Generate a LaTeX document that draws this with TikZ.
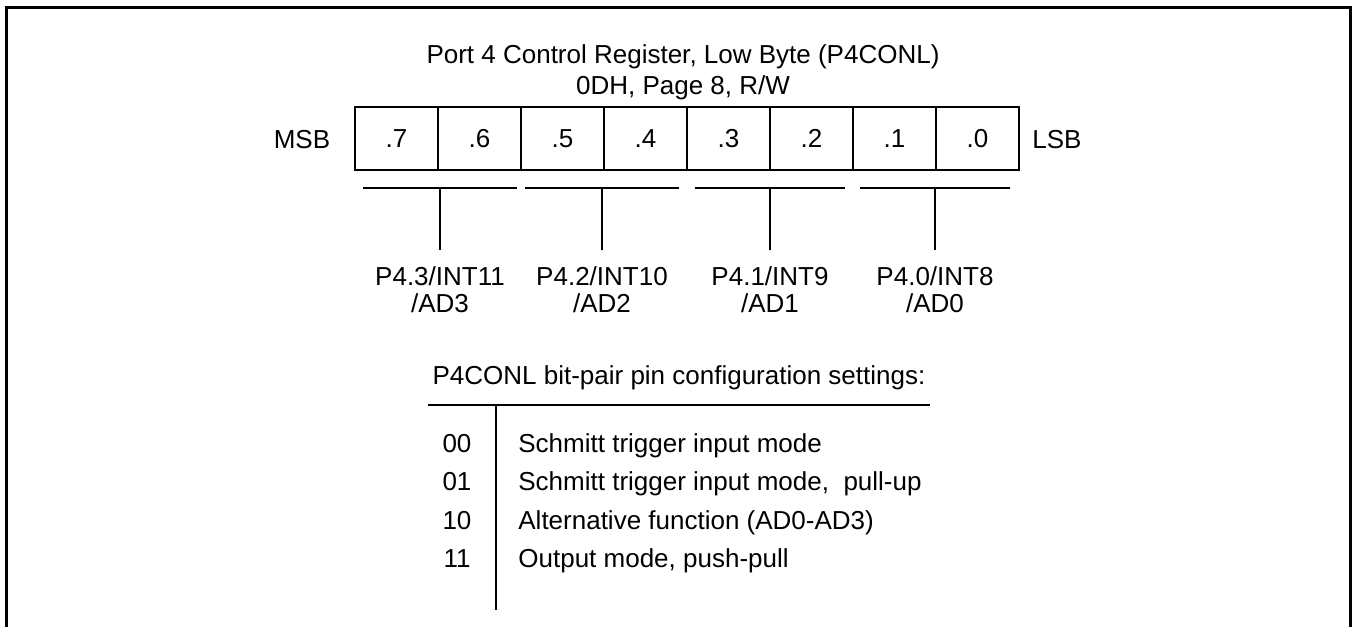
\documentclass[tikz,border=0pt]{standalone}
\usepackage{fontspec}
\setmainfont{Liberation Sans}
\begin{document}
\begin{tikzpicture}[x=0.5pt,y=-0.5pt,
  txt/.style={font=\fontsize{13}{13.5}\selectfont, inner sep=0pt, align=center},
  cell/.style={draw, line width=0.9pt, minimum width=41.5pt, minimum height=31.5pt, inner sep=0pt, font=\fontsize{13}{13.5}\selectfont},
  ln/.style={line width=0.9pt},
  frame/.style={line width=1.5pt}]
\useasboundingbox (0,0) rectangle (1356,627);
\begin{scope}
\clip (0,0) rectangle (1356,627);
\draw[frame] (6,640) -- (6,7) -- (1350,7) -- (1350,640);
\end{scope}
% title
\node[txt, anchor=base] (t1) at (683,63) {Port 4 Control Register, Low Byte (P4CONL)};
\node[txt, anchor=base] (t2) at (683,94.5) {0DH, Page 8, R/W};
% register
\node[txt, anchor=base] (msb) at (302,148) {MSB};
\node[txt, anchor=base] (lsb) at (1057,148) {LSB};
\node[cell] (b7) at (396.5,138.5) {.7};
\node[cell] (b6) at (479.5,138.5) {.6};
\node[cell] (b5) at (562.5,138.5) {.5};
\node[cell] (b4) at (645.5,138.5) {.4};
\node[cell] (b3) at (728.5,138.5) {.3};
\node[cell] (b2) at (811.5,138.5) {.2};
\node[cell] (b1) at (894.5,138.5) {.1};
\node[cell] (b0) at (977.5,138.5) {.0};
% pair bars
\coordinate (g3l) at (363,188); \coordinate (g3r) at (517,188); \coordinate (g3) at (440,188);
\coordinate (g2l) at (525,188); \coordinate (g2r) at (679,188); \coordinate (g2) at (602,188);
\coordinate (g1l) at (695,188); \coordinate (g1r) at (845,188); \coordinate (g1) at (770,188);
\coordinate (g0l) at (860,188); \coordinate (g0r) at (1010,188); \coordinate (g0) at (935,188);
\draw[ln] (g3l) -- (g3r); \draw[ln] (g2l) -- (g2r); \draw[ln] (g1l) -- (g1r); \draw[ln] (g0l) -- (g0r);
% labels
\node[txt, anchor=north] (l3) at (440,266.5) {P4.3/INT11\\/AD3};
\node[txt, anchor=north] (l2) at (602,266.5) {P4.2/INT10\\/AD2};
\node[txt, anchor=north] (l1) at (770,266.5) {P4.1/INT9\\/AD1};
\node[txt, anchor=north] (l0) at (935,266.5) {P4.0/INT8\\/AD0};
\draw[ln] (g3) -- (440,250);
\draw[ln] (g2) -- (602,250);
\draw[ln] (g1) -- (770,250);
\draw[ln] (g0) -- (935,250);
% settings table
\node[txt, anchor=base] (st) at (679,384) {P4CONL bit-pair pin configuration settings:};
\coordinate (hl) at (428,405); \coordinate (hr) at (930,405);
\coordinate (vt) at (496,405); \coordinate (vb) at (496,610);
\draw[ln] (hl) -- (hr);
\draw[ln] (vt) -- (vb);
\node[txt, anchor=base] (c0) at (457,452) {00};
\node[txt, anchor=base] (c1) at (457,490.5) {01};
\node[txt, anchor=base] (c2) at (457,529) {10};
\node[txt, anchor=base] (c3) at (457,567.5) {11};
\node[txt, anchor=base west] (d0) at (518,452) {Schmitt trigger input mode};
\node[txt, anchor=base west] (d1) at (518,490.5) {Schmitt trigger input mode,\ \ pull-up};
\node[txt, anchor=base west] (d2) at (518,529) {Alternative function (AD0-AD3)};
\node[txt, anchor=base west] (d3) at (518,567.5) {Output mode, push-pull};
\end{tikzpicture}
\end{document}
